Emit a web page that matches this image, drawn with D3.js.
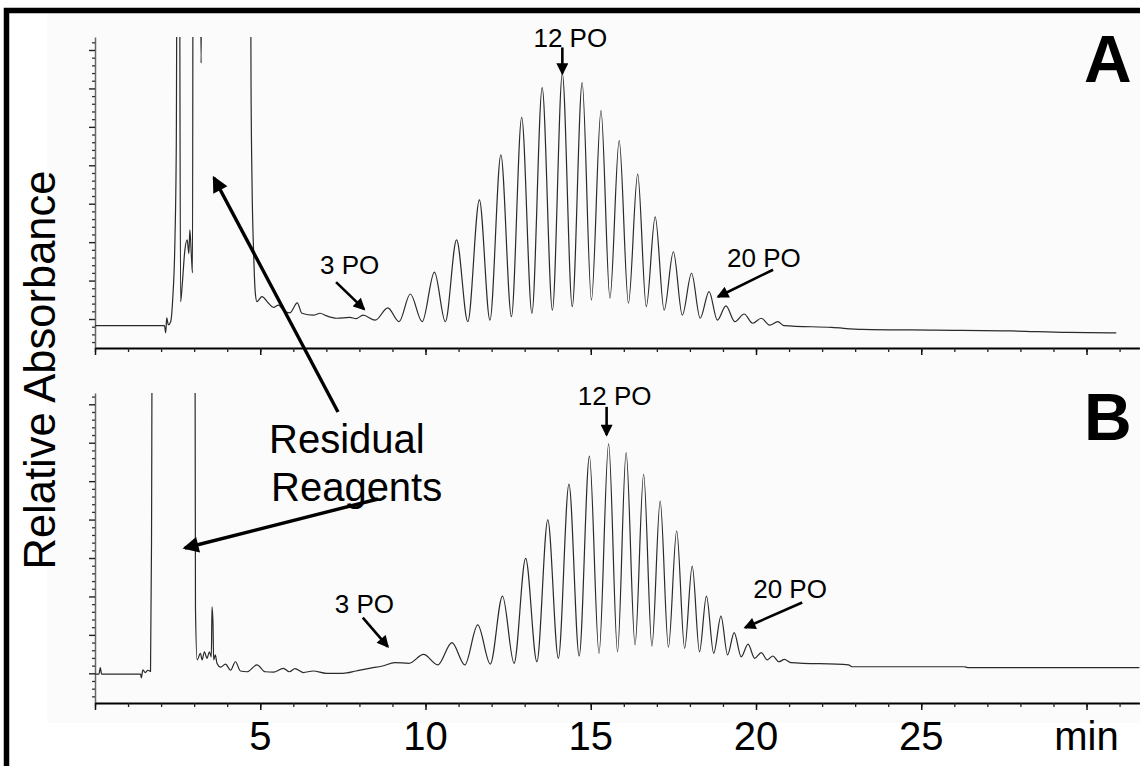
<!DOCTYPE html>
<html>
<head>
<meta charset="utf-8">
<script src="https://cdn.jsdelivr.net/npm/d3@7"></script>
<style>
html,body{margin:0;padding:0;background:#fff;}
svg{display:block;}
text{font-family:"Liberation Sans",Arial,Helvetica,sans-serif;fill:#000;}
</style>
</head>
<body>
<svg id="chart" width="1140" height="766"></svg>
<script>
// ---------------- DATA ----------------
// Chromatogram A: retention time (min) and relative absorbance (arbitrary units, off-scale peaks = 12)
const timeA = [0, 2.10, 2.14, 2.17, 2.22, 2.29, 2.35, 2.42, 2.46, 2.49, 2.55, 2.59, 2.64, 2.72, 2.79, 2.84, 2.87, 2.92, 2.95, 2.97,
  3.17, 3.21, 3.25, 4.70, 4.72, 4.75, 4.80, 4.85, 4.90, 4.95, 5.05, 5.25, 5.40, 5.55, 5.70, 5.90, 6.12, 6.26, 6.61, 6.81,
  7.01, 7.31, 7.71, 7.90, 8.11, 8.48, 8.86, 9.20, 9.54, 9.90, 10.27, 10.60, 10.94, 11.28, 11.63, 11.95, 12.28, 12.60, 12.91,
  13.22, 13.53, 13.84, 14.14, 14.44, 14.74, 15.02, 15.31, 15.58, 15.86, 16.14, 16.42, 16.68, 16.95, 17.22, 17.50, 17.77,
  18.05, 18.31, 18.58, 18.83, 19.09, 19.36, 19.64, 19.90, 20.16, 20.41, 20.66, 20.84, 22.29, 23.22, 25.42, 27.71, 29.43, 30.9];
const absA = [-0.17, -0.17, -0.36, 0.03, -0.15, -0.07, 0.5, 2.1, 4.6, 12, 12, 0.45, 0.9, 1.8, 2.06, 1.7, 2.32, 1.59, 1.2, 12,
  12, 6.66, 12, 12, 6.3, 3.62, 1.72, 0.68, 0.45, 0.49, 0.58, 0.41, 0.30, 0.36, 0.23, 0.16, 0.42, 0.15, 0.10, 0.15,
  0.08, 0.02, 0.04, 0.01, 0.10, -0.03, 0.29, -0.07, 0.65, -0.07, 1.22, -0.07, 2.06, -0.07, 3.10, -0.03, 4.27, 0.06, 5.25,
  0.15, 6.02, 0.23, 6.39, 0.32, 6.15, 0.49, 5.42, 0.54, 4.64, 0.41, 3.77, 0.32, 2.66, 0.23, 1.75, 0.10,
  1.19, 0.02, 0.71, -0.03, 0.34, -0.07, 0.13, -0.11, 0.02, -0.16, -0.07, -0.17, -0.22, -0.27, -0.29, -0.31, -0.35, -0.36];

// Chromatogram B
const timeB = [0, 0.12, 0.16, 0.20, 1.38, 1.40, 1.45, 1.52, 1.60, 1.68, 1.71, 1.74, 3.02, 3.04, 3.09, 3.19, 3.24, 3.31, 3.39,
  3.46, 3.52, 3.54, 3.57, 3.59, 3.64, 3.69, 3.80, 3.95, 4.10, 4.25, 4.40, 4.60, 4.90, 5.15, 5.40, 5.70, 5.88, 6.05, 6.30,
  6.60, 7.00, 7.50, 7.90, 8.30, 8.70, 9.07, 9.50, 9.94, 10.37, 10.80, 11.19, 11.58, 11.96, 12.33, 12.68, 13.03, 13.37,
  13.70, 14.02, 14.34, 14.65, 14.96, 15.25, 15.54, 15.81, 16.07, 16.34, 16.60, 16.85, 17.10, 17.35, 17.60, 17.84, 18.07,
  18.29, 18.50, 18.72, 18.94, 19.14, 19.34, 19.55, 19.76, 19.96, 20.16, 20.34, 20.51, 20.69, 20.86, 21.05, 22.80, 22.90,
  26.30, 26.40, 31.6];
const absB = [-0.02, -0.02, 0.15, -0.02, -0.02, -0.12, 0.09, 0.02, 0.08, 0.05, 3.39, 12, 12, 1.70, 0.35, 0.52, 0.35, 0.56, 0.39,
  0.56, 0.43, 1.73, 1.30, 0.35, 0.48, 0.26, 0.16, 0.24, 0.08, 0.30, 0.06, 0.04, 0.22, 0.04, 0.03, 0.13, 0.04, 0.12, 0.02,
  0.06, 0.00, 0.00, 0.06, 0.13, 0.19, 0.28, 0.26, 0.49, 0.22, 0.80, 0.22, 1.26, 0.24, 2.01, 0.26, 2.99, 0.30,
  3.99, 0.39, 4.92, 0.45, 5.65, 0.52, 5.97, 0.56, 5.74, 0.74, 5.18, 0.71, 4.48, 0.68, 3.71, 0.65, 2.79,
  0.56, 2.01, 0.52, 1.49, 0.48, 1.06, 0.43, 0.76, 0.39, 0.54, 0.35, 0.45, 0.30, 0.36, 0.28, 0.22, 0.17,
  0.17, 0.15, 0.15];

// Axis ticks / labels
const xTickValues = [5, 10, 15, 20, 25, 30];
const xTickLabels = ["5", "10", "15", "20", "25", "min"];
const yTitle = "Relative Absorbance";
const panelLabels = ["A", "B"];
// Oligomer annotations (label, peak retention time)
const poLabels = ["3 PO", "12 PO", "20 PO"];
const poTimesA = [8.11, 14.14, 18.58];
const poTimesB = [9.07, 15.54, 19.34];
const reagentText = ["Residual", "Reagents"];

// ---------------- LAYOUT ----------------
const svg = d3.select("#chart");
const W = 1140, H = 766;

svg.append("rect").attr("x", 0).attr("y", 0).attr("width", W).attr("height", H).attr("fill", "#fff");
svg.append("rect").attr("x", 47).attr("y", 13).attr("width", W - 47).attr("height", 710).attr("fill", "#fbfbfb");

// frame
svg.append("path").attr("d", `M6.5,${H + 5}V10.5H${W + 5}`)
  .attr("fill", "none").attr("stroke", "#000").attr("stroke-width", 5.5);

const x = d3.scaleLinear().domain([0, 31.6]).range([95, 1139.4]);

// arrow markers
const defs = svg.append("defs");
function marker(id, w, h) {
  defs.append("marker").attr("id", id)
    .attr("viewBox", "0 0 10 10").attr("refX", 8.5).attr("refY", 5)
    .attr("markerUnits", "userSpaceOnUse")
    .attr("markerWidth", w).attr("markerHeight", h)
    .attr("orient", "auto")
    .append("path").attr("d", "M0,0L10,5L0,10z").attr("fill", "#000");
}
marker("headS", 13, 12);
marker("headL", 19, 16);

const panels = [
  { time: timeA, abs: absA, top: 37, bottom: 348, zero: 319, label: panelLabels[0], labelY: 82,
    po: poTimesA,
    // [tipDx, tipDy, tailDx, tailDy, textX, textDy, anchor]
    poLayout: [[1, -6, -27, -33, -43, -41, "start"], [0, 0, 0, -26, 8, -26, "middle"], [9, 5, 64, -22, 18, -25, "start"]] },
  { time: timeB, abs: absB, top: 393, bottom: 703, zero: 673.3, label: panelLabels[1], labelY: 440,
    po: poTimesB,
    poLayout: [[-7, -16, -32, -45, -60, -50, "start"], [-2, -9, -2, -37, 6, -39, "middle"], [11, -5, 68, -30, 19, -35, "start"]] }
];
const unit = 38.43; // px per absorbance unit

panels.forEach((p, pi) => {
  const y = d3.scaleLinear()
    .domain([(p.zero - p.bottom) / unit, (p.zero - p.top) / unit])
    .range([p.bottom, p.top]);
  p.y = y;
  const dom = y.domain();
  const g = svg.append("g");

  // y axis
  const fifths = d3.range(-5, 40).map(i => i / 5).filter(v => v >= dom[0] && v <= dom[1]);
  const minor = fifths.filter(v => Math.abs(v - Math.round(v)) > 1e-6);
  const major = fifths.filter(v => Math.abs(v - Math.round(v)) <= 1e-6);
  const yMinor = g.append("g").attr("transform", "translate(95,0)")
    .call(d3.axisLeft(y).tickValues(minor).tickSize(3).tickSizeOuter(0).tickFormat(""));
  yMinor.select(".domain").attr("stroke", "#666").attr("stroke-width", 1.5);
  yMinor.selectAll(".tick line").attr("stroke", "#333").attr("stroke-width", 1.3);
  const yMajor = g.append("g").attr("transform", "translate(95,0)")
    .call(d3.axisLeft(y).tickValues(major).tickSize(6).tickSizeOuter(0).tickFormat(""));
  yMajor.select(".domain").remove();
  yMajor.selectAll(".tick line").attr("stroke", "#222").attr("stroke-width", 1.4);

  // x axis
  const xMinor = g.append("g").attr("transform", `translate(0,${p.bottom})`)
    .call(d3.axisBottom(x).tickValues(d3.range(0, 32)).tickSize(4).tickSizeOuter(0).tickFormat(""));
  xMinor.select(".domain").attr("stroke", "#000").attr("stroke-width", 2);
  xMinor.selectAll(".tick line").attr("stroke", "#222").attr("stroke-width", 1.3);
  const xMajor = g.append("g").attr("transform", `translate(0,${p.bottom})`)
    .call(d3.axisBottom(x).tickValues([0].concat(xTickValues)).tickSize(7).tickSizeOuter(0).tickFormat(""));
  xMajor.select(".domain").remove();
  xMajor.selectAll(".tick line").attr("stroke", "#111").attr("stroke-width", 1.5);

  // trace
  const clipId = "clip" + pi;
  svg.append("clipPath").attr("id", clipId).append("rect")
    .attr("x", 95).attr("y", p.top).attr("width", W - 95).attr("height", p.bottom - p.top);
  const pts = p.time.map((t, i) => [t, p.abs[i]]);
  const line = d3.line().x(d => x(d[0])).y(d => y(d[1])).curve(d3.curveMonotoneX);
  svg.append("path").datum(pts).attr("clip-path", `url(#${clipId})`)
    .attr("d", line).attr("fill", "none").attr("stroke", "#2a2a2a").attr("stroke-width", 1.2)
    .attr("stroke-linejoin", "round");

  // panel letter
  svg.append("text").attr("x", 1084).attr("y", p.labelY)
    .attr("font-size", 66).attr("font-weight", "bold").text(p.label);

  // oligomer annotations
  p.po.forEach((t, k) => {
    const idx = p.time.indexOf(t);
    const px = x(t), py = y(p.abs[idx]);
    const L = p.poLayout[k];
    svg.append("line")
      .attr("x1", px + L[2]).attr("y1", py + L[3])
      .attr("x2", px + L[0]).attr("y2", py + L[1])
      .attr("stroke", "#000").attr("stroke-width", 2.6)
      .attr("marker-end", "url(#headS)");
    svg.append("text").attr("x", px + L[4]).attr("y", py + L[5])
      .attr("text-anchor", L[6]).attr("font-size", 26).text(poLabels[k]);
  });
});

// x tick labels (bottom panel only)
svg.append("g").selectAll("text").data(xTickValues).join("text")
  .attr("x", d => x(d)).attr("y", 750)
  .attr("text-anchor", "middle").attr("font-size", 40)
  .text((d, i) => xTickLabels[i]);

// y title
svg.append("text").attr("transform", "translate(55,370) rotate(-90)")
  .attr("text-anchor", "middle").attr("font-size", 43.5).text(yTitle);

// Residual reagents
svg.append("text").attr("x", 269).attr("y", 453).attr("font-size", 40).text(reagentText[0]);
svg.append("text").attr("x", 271).attr("y", 501).attr("font-size", 40).text(reagentText[1]);

const yA = panels[0].y, yB = panels[1].y;
svg.append("line")
  .attr("x1", 338).attr("y1", 412)
  .attr("x2", x(3.6)).attr("y2", yA(3.67))
  .attr("stroke", "#000").attr("stroke-width", 3.4).attr("marker-end", "url(#headL)");
svg.append("line")
  .attr("x1", 378).attr("y1", 499)
  .attr("x2", x(2.72)).attr("y2", yB(3.26))
  .attr("stroke", "#000").attr("stroke-width", 3.4).attr("marker-end", "url(#headL)");
</script>
</body>
</html>
